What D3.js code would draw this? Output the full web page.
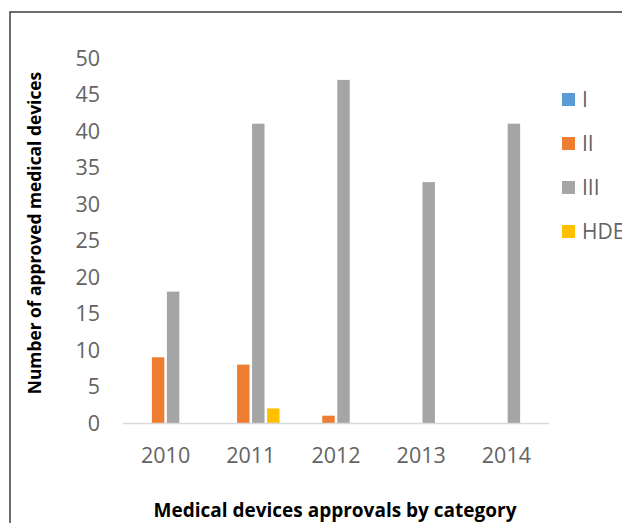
<!DOCTYPE html>
<html>
<head>
<meta charset="utf-8">
<script src="https://cdnjs.cloudflare.com/ajax/libs/d3/7.8.5/d3.min.js"></script>
<style>
  body { margin: 0; background: #fff; }
  svg { display: block; font-family: "Open Sans", sans-serif; }
</style>
</head>
<body>
<div id="chart"></div>
<script>
// data
var years = ["2010", "2011", "2012", "2013", "2014"];
var seriesNames = ["I", "II", "III", "HDE"];
var classI = [0, 0, 0, 0, 0];
var classII = [9, 8, 1, 0, 0];
var classIII = [18, 41, 47, 33, 41];
var classHDE = [0, 2, 0, 0, 0];
var yTicks = [0, 5, 10, 15, 20, 25, 30, 35, 40, 45, 50];
var colors = ["#5b9bd5", "#ed7d31", "#a5a5a5", "#ffc000"];

var W = 622, H = 523;
var allSeries = [classI, classII, classIII, classHDE];

var svg = d3.select("#chart").append("svg")
    .attr("width", W)
    .attr("height", H);

// outer frame (runs off the right and bottom edges)
svg.append("path")
    .attr("d", "M10," + (H + 5) + "V12H" + (W + 5))
    .style("fill", "none")
    .style("stroke", "#3f3f3f")
    .style("stroke-width", 1.5);

var x = d3.scaleBand().domain(years).range([123, 549]);
var x1 = d3.scaleBand().domain(seriesNames).range([0, 60]);
var y = d3.scaleLinear().domain([0, 50]).range([423, 58]);

var barW = x1.bandwidth() * 0.83;

// bars
var rows = [];
years.forEach(function (yr, i) {
    seriesNames.forEach(function (s, j) {
        rows.push({ year: yr, series: s, value: allSeries[j][i], color: colors[j] });
    });
});

svg.append("g").selectAll("rect")
    .data(rows.filter(function (d) { return d.value > 0; }))
    .enter().append("rect")
    .attr("x", function (d) {
        return x(d.year) + x.bandwidth() / 2 - 30 + x1(d.series) + (x1.bandwidth() - barW) / 2;
    })
    .attr("y", function (d) { return y(d.value); })
    .attr("width", barW)
    .attr("height", function (d) { return y(0) - y(d.value); })
    .style("fill", function (d) { return d.color; });

// x axis line
svg.append("line")
    .attr("x1", 123).attr("x2", 549)
    .attr("y1", y(0) + 0.5).attr("y2", y(0) + 0.5)
    .style("stroke", "#d9d9d9")
    .style("stroke-width", 1.5);

// y tick labels
svg.append("g").selectAll("text")
    .data(yTicks)
    .enter().append("text")
    .attr("x", 100)
    .attr("y", function (d) { return y(d); })
    .attr("dy", "0.35em")
    .attr("text-anchor", "end")
    .style("font-size", "21.5px")
    .style("fill", "#636363")
    .text(function (d) { return d; });

// x tick labels
svg.append("g").selectAll("text")
    .data(years)
    .enter().append("text")
    .attr("x", function (d) { return x(d) + x.bandwidth() / 2; })
    .attr("y", 455)
    .attr("dy", "0.35em")
    .attr("text-anchor", "middle")
    .style("font-size", "21.5px")
    .style("fill", "#636363")
    .text(function (d) { return d; });

// axis titles
svg.append("text")
    .attr("transform", "translate(35,233)rotate(-90)")
    .attr("dy", "0.35em")
    .attr("text-anchor", "middle")
    .style("font-size", "17.4px")
    .style("font-weight", "bold")
    .style("fill", "#000")
    .text("Number of approved medical devices");

svg.append("text")
    .attr("x", 335)
    .attr("y", 510)
    .attr("dy", "0.35em")
    .attr("text-anchor", "middle")
    .style("font-size", "19px")
    .style("font-weight", "bold")
    .style("fill", "#000")
    .text("Medical devices approvals by category");

// legend
var legend = svg.append("g").selectAll("g")
    .data(seriesNames)
    .enter().append("g")
    .attr("transform", function (d, i) { return "translate(562," + (99.5 + i * 44) + ")"; });

legend.append("rect")
    .attr("x", 0).attr("y", -6.5)
    .attr("width", 13).attr("height", 13)
    .style("fill", function (d, i) { return colors[i]; });

legend.append("text")
    .attr("x", 20)
    .attr("dy", "0.35em")
    .style("font-size", "21px")
    .style("fill", "#636363")
    .text(function (d) { return d; });
</script>
</body>
</html>
